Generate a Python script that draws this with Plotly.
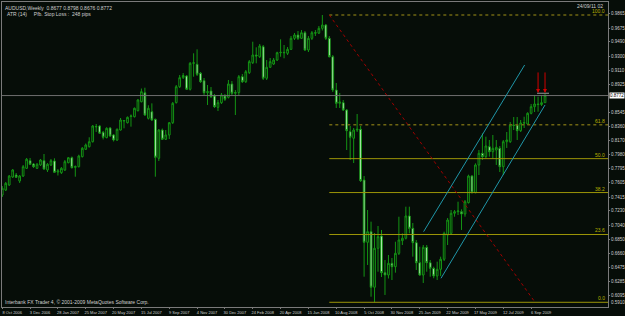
import pandas as pd
import plotly.graph_objects as go

# ---------------- data (AUDUSD weekly) ----------------
first_week = "2006-10-08"

opens = [0.7442,0.7509,0.7576,0.7683,0.7710,0.7630,0.7696,0.7799,0.7901,0.7857,
         0.7799,0.7844,0.7901,0.7777,0.7844,0.7897,0.7750,0.7741,0.7777,0.7874,
         0.7941,0.7811,0.7821,0.7955,0.8053,0.8088,0.8155,0.8352,0.8365,0.8281,
         0.8209,0.8338,0.8245,0.8178,0.8311,0.8431,0.8409,0.8492,0.8489,0.8570,
         0.8690,0.8810,0.8468,0.8556,0.8454,0.7933,0.8311,0.8187,0.8245,0.8409,
         0.8677,0.8890,0.9011,0.9033,0.8856,0.9203,0.9190,0.9070,0.8971,0.8810,
         0.8833,0.8766,0.8615,0.8677,0.8766,0.8749,0.8927,0.8802,0.8813,0.9024,
         0.8957,0.9078,0.9211,0.9314,0.9291,0.9425,0.9003,0.9150,0.9194,0.9247,
         0.9345,0.9350,0.9337,0.9390,0.9537,0.9582,0.9537,0.9612,0.9381,0.9537,
         0.9612,0.9607,0.9671,0.9715,0.9537,0.9291,0.8846,0.8668,0.8677,0.8579,
         0.8289,0.8201,0.8311,0.8321,0.7643,0.6810,0.6952,0.6209,0.6730,0.6894,
         0.6404,0.6373,0.6529,0.6484,0.6663,0.6832,0.6864,0.7162,0.6997,0.6805,
         0.6537,0.6373,0.6743,0.6537,0.6462,0.6360,0.6449,0.6583,0.6908,0.6930,
         0.7198,0.7219,0.7219,0.7189,0.7340,0.7696,0.7473,0.7844,0.8000,0.7955,
         0.8088,0.8021,0.8044,0.8067,0.7821,0.8155,0.8155,0.8378,0.8378,0.8302,
         0.8405,0.8392,0.8535,0.8623,0.8659,0.8652,0.8677]
highs = [0.7563,0.7616,0.7710,0.7790,0.7737,0.7710,0.7844,0.7937,0.7937,0.7870,
         0.7870,0.7924,0.7991,0.7870,0.7924,0.7933,0.7790,0.7817,0.7910,0.7950,
         0.7957,0.7837,0.7981,0.8084,0.8131,0.8214,0.8378,0.8392,0.8378,0.8298,
         0.8348,0.8352,0.8258,0.8332,0.8472,0.8445,0.8492,0.8519,0.8612,0.8726,
         0.8866,0.8877,0.8642,0.8668,0.8465,0.8324,0.8331,0.8311,0.8418,0.8686,
         0.8913,0.9047,0.9074,0.9047,0.9221,0.9337,0.9390,0.9087,0.9007,0.8913,
         0.8886,0.8793,0.8713,0.8806,0.8793,0.8980,0.8967,0.8846,0.9047,0.9060,
         0.9114,0.9247,0.9492,0.9417,0.9461,0.9448,0.9247,0.9274,0.9274,0.9358,
         0.9524,0.9448,0.9421,0.9568,0.9608,0.9635,0.9648,0.9635,0.9568,0.9635,
         0.9648,0.9702,0.9849,0.9729,0.9568,0.9314,0.8940,0.8806,0.8713,0.8592,
         0.8365,0.8338,0.8525,0.8365,0.7696,0.7242,0.7086,0.6934,0.7028,0.6975,
         0.6573,0.6640,0.6600,0.6818,0.7152,0.6930,0.7286,0.7286,0.7068,0.6841,
         0.6751,0.6774,0.6774,0.6573,0.6484,0.6551,0.6618,0.6952,0.7135,0.7242,
         0.7242,0.7353,0.7251,0.7376,0.7714,0.7710,0.7866,0.8044,0.8267,0.8222,
         0.8178,0.8245,0.8178,0.8098,0.8178,0.8285,0.8418,0.8485,0.8485,0.8445,
         0.8489,0.8548,0.8659,0.8780,0.8757,0.8766,0.8798]
lows = [0.7416,0.7496,0.7563,0.7670,0.7670,0.7603,0.7683,0.7790,0.7844,0.7804,
        0.7790,0.7830,0.7777,0.7750,0.7830,0.7737,0.7703,0.7723,0.7763,0.7866,
        0.7797,0.7687,0.7811,0.7944,0.8044,0.8078,0.8144,0.8285,0.8258,0.8185,
        0.8201,0.8218,0.8158,0.8164,0.8305,0.8334,0.8399,0.8356,0.8479,0.8559,
        0.8680,0.8499,0.8452,0.8431,0.7687,0.7897,0.8178,0.8178,0.8191,0.8392,
        0.8666,0.8873,0.8993,0.8846,0.8840,0.9024,0.9033,0.8940,0.8780,0.8646,
        0.8739,0.8606,0.8566,0.8659,0.8700,0.8733,0.8780,0.8512,0.8780,0.8940,
        0.8940,0.9060,0.9194,0.9203,0.9274,0.8980,0.8980,0.9140,0.9181,0.9234,
        0.9291,0.9270,0.9314,0.9381,0.9515,0.9515,0.9528,0.9368,0.9354,0.9515,
        0.9568,0.9595,0.9642,0.9515,0.9281,0.8819,0.8606,0.8606,0.8566,0.8044,
        0.7910,0.7870,0.8285,0.7616,0.6350,0.6507,0.6083,0.6008,0.6417,0.6346,
        0.6106,0.6326,0.6306,0.6404,0.6640,0.6774,0.6848,0.6930,0.6618,0.6440,
        0.6360,0.6266,0.6417,0.6350,0.6329,0.6306,0.6360,0.6560,0.6774,0.6908,
        0.7152,0.7175,0.6975,0.7152,0.7329,0.7463,0.7465,0.7710,0.7910,0.7937,
        0.7955,0.7933,0.7844,0.7750,0.7710,0.8071,0.8138,0.8311,0.8178,0.8285,
        0.8338,0.8378,0.8521,0.8552,0.8556,0.8632,0.8676]
closes = [0.7532,0.7599,0.7696,0.7777,0.7679,0.7696,0.7821,0.7920,0.7853,0.7821,
          0.7853,0.7910,0.7790,0.7853,0.7901,0.7746,0.7763,0.7799,0.7888,0.7941,
          0.7807,0.7824,0.7964,0.8067,0.8111,0.8155,0.8365,0.8358,0.8268,0.8214,
          0.8334,0.8231,0.8178,0.8321,0.8445,0.8438,0.8481,0.8499,0.8602,0.8713,
          0.8824,0.8512,0.8602,0.8445,0.7947,0.8311,0.8187,0.8245,0.8409,0.8668,
          0.8890,0.9011,0.9040,0.8856,0.9203,0.9210,0.9056,0.8957,0.8810,0.8824,
          0.8757,0.8623,0.8677,0.8780,0.8722,0.8927,0.8802,0.8813,0.9024,0.8957,
          0.9091,0.9225,0.9314,0.9301,0.9435,0.9003,0.9150,0.9225,0.9247,0.9345,
          0.9350,0.9345,0.9390,0.9537,0.9582,0.9537,0.9612,0.9381,0.9537,0.9612,
          0.9607,0.9671,0.9715,0.9537,0.9291,0.8846,0.8668,0.8686,0.8579,0.8302,
          0.8214,0.8311,0.8321,0.7634,0.6810,0.6952,0.6209,0.6730,0.6885,0.6404,
          0.6373,0.6529,0.6484,0.6663,0.6841,0.6864,0.7162,0.6997,0.6805,0.6537,
          0.6373,0.6743,0.6537,0.6462,0.6360,0.6449,0.6583,0.6930,0.7108,0.7198,
          0.7219,0.7229,0.7189,0.7353,0.7696,0.7473,0.7844,0.8000,0.7955,0.8098,
          0.8021,0.8067,0.8080,0.7821,0.8155,0.8178,0.8378,0.8372,0.8302,0.8405,
          0.8409,0.8535,0.8623,0.8659,0.8652,0.8677,0.8772]

x_tick_dates = ["2006-10-08","2006-12-03","2007-01-28","2007-03-25","2007-05-20",
                "2007-07-15","2007-09-09","2007-11-04","2007-12-30","2008-02-24",
                "2008-04-20","2008-06-15","2008-08-10","2008-10-05","2008-11-30",
                "2009-01-25","2009-03-22","2009-05-17","2009-07-12","2009-09-06"]
x_tick_text = ["8 Oct 2006","3 Dec 2006","28 Jan 2007","25 Mar 2007","20 May 2007",
               "15 Jul 2007","9 Sep 2007","4 Nov 2007","30 Dec 2007","24 Feb 2008",
               "20 Apr 2008","15 Jun 2008","10 Aug 2008","5 Oct 2008","30 Nov 2008",
               "25 Jan 2009","22 Mar 2009","17 May 2009","12 Jul 2009","6 Sep 2009"]
y_tick_vals = [0.9865,0.9675,0.9490,0.9300,0.9110,0.8925,0.8545,0.8360,0.8170,
               0.7980,0.7795,0.7605,0.7415,0.7230,0.7040,0.6850,0.6660,0.6475,0.6285,
               0.6095]

# Fibonacci retracement (drawn object)
fib_high, fib_low = 0.9849, 0.6008
fib_anchor_dates = ["2008-07-27", "2009-09-14"]
fib_levels = [0.0, 23.6, 38.2, 50.0, 61.8, 100.0]
fib_labels = ["0.0", "23.6", "38.2", "50.0", "61.8", "100.0"]

# regression channel lines (drawn objects)
chan_upper_dates = ["2009-02-01 17:00", "2009-08-24"]
chan_upper_prices = [0.6952, 0.9181]
chan_lower_dates = ["2009-03-08 17:00", "2009-10-04"]
chan_lower_prices = [0.6329, 0.8646]

# down arrows
arrow_dates = ["2009-09-20", "2009-10-04"]
arrow_tip, arrow_tail = 0.8807, 0.9101
mark_dates = ["2009-09-18", "2009-10-12"]
mark_price = 0.8803

last_price = closes[-1]

# ---------------- figure ----------------
dates = pd.date_range(first_week, periods=len(opens), freq="7D")
BG = "#060d08"
GRID = "#7a7a7a"
LINE = "#149414"
TXT = "#cfcfcf"
FONT = "Liberation Sans, Arial"

fig = go.Figure()
fig.add_trace(go.Candlestick(
    x=dates, open=opens, high=highs, low=lows, close=closes,
    increasing=dict(line=dict(color=LINE, width=1), fillcolor=BG),
    decreasing=dict(line=dict(color=LINE, width=1), fillcolor="#d8ffd8"),
    whiskerwidth=0, showlegend=False, hoverinfo="skip",
))

t0 = pd.Timestamp(first_week)
x_range = [t0 - pd.Timedelta(days=0.5), t0 + pd.Timedelta(days=174.1 * 7)]

shapes = []
shapes.append(dict(type="line", xref="paper", x0=0, x1=1, yref="y",
                   y0=last_price, y1=last_price, line=dict(color="#6f6f6f", width=1)))
for lv in fib_levels:
    price = fib_low + (fib_high - fib_low) * lv / 100.0
    if lv in (100.0, 61.8):
        ln = dict(color="#6e6612", width=1.5, dash="dot")
    else:
        ln = dict(color="#9c9608", width=1)
    shapes.append(dict(type="line", xref="x", x0=fib_anchor_dates[0], x1=x_range[1],
                       yref="y", y0=price, y1=price, line=ln))
shapes.append(dict(type="line", xref="x", yref="y",
                   x0=fib_anchor_dates[0], y0=fib_high, x1=fib_anchor_dates[1], y1=fib_low,
                   line=dict(color="#a00000", width=1, dash="dot")))
for ds, ps in ((chan_upper_dates, chan_upper_prices), (chan_lower_dates, chan_lower_prices)):
    shapes.append(dict(type="line", xref="x", yref="y", x0=ds[0], y0=ps[0], x1=ds[1], y1=ps[1],
                       line=dict(color="#2096a8", width=1)))
shapes.append(dict(type="line", xref="x", yref="y", x0=mark_dates[0], x1=mark_dates[1],
                   y0=mark_price, y1=mark_price, line=dict(color="#9a9a9a", width=1)))

ann = []
small = dict(family=FONT, size=5, color=TXT)
tiny = dict(family=FONT, size=4.5, color=TXT)
o, h, l, c = opens[-1], highs[-1], lows[-1], closes[-1]
ann.append(dict(xref="paper", yref="paper", x=0.002, y=1.0, xanchor="left", yanchor="top", yshift=-1,
                text=f"AUDUSD,Weekly  {o:.4f} {h:.4f} {l:.4f} {c:.4f}", showarrow=False, font=small))
ann.append(dict(xref="paper", yref="paper", x=0.005, y=0.961, xanchor="left", yanchor="middle",
                text="ATR (14)     Pfb. Stop Loss :  248 pips", showarrow=False, font=small))
ann.append(dict(xref="paper", yref="paper", x=0.995, y=1.0, xanchor="right", yanchor="top", yshift=1,
                text="24/09/11 02", showarrow=False, font=small))
ann.append(dict(xref="paper", yref="paper", x=0.002, y=0.016, xanchor="left", yanchor="middle",
                text="Interbank FX Trader 4, © 2001-2009 MetaQuotes Software Corp.",
                showarrow=False, font=small))
for lv, lab in zip(fib_levels, fib_labels):
    price = fib_low + (fib_high - fib_low) * lv / 100.0
    ann.append(dict(xref="paper", yref="y", x=0.998, y=price, xanchor="right", yanchor="bottom",
                    yshift=-1, text=lab, showarrow=False,
                    font=dict(family=FONT, size=5, color="#b8b000")))
for d in arrow_dates:
    ann.append(dict(xref="x", yref="y", x=d, y=arrow_tip, axref="x", ayref="y", ax=d, ay=arrow_tail,
                    showarrow=True, arrowhead=2, arrowsize=0.8, arrowwidth=1, arrowcolor="#d00000",
                    text=""))
ann.append(dict(xref="paper", yref="y", x=1, y=last_price, xanchor="left", yanchor="middle", xshift=1,
                text=f"{last_price:.4f}", showarrow=False, bgcolor="#ffffff", borderpad=0,
                font=dict(family=FONT, size=4.5, color="#000000")))
ann.append(dict(xref="paper", yref="paper", x=1, y=0.0, xanchor="left", yanchor="bottom", xshift=1,
                text="0.5910", showarrow=False, font=tiny))

fig.update_layout(
    width=625, height=316,
    margin=dict(l=2, r=17, t=2, b=9, autoexpand=False),
    paper_bgcolor=BG, plot_bgcolor=BG,
    shapes=shapes, annotations=ann,
    xaxis=dict(type="date", range=x_range, rangeslider=dict(visible=False), automargin=False,
               showgrid=False, zeroline=False, showline=True, mirror=True,
               linecolor=GRID, linewidth=1,
               tickmode="array", tickvals=x_tick_dates, ticktext=x_tick_text, tickangle=0,
               ticks="outside", ticklen=1, tickcolor=GRID, ticklabelshift=10,
               ticklabelstandoff=0,
               tickfont=dict(family=FONT, size=4, color=TXT)),
    yaxis=dict(side="right", range=[0.5945, 1.00229], showgrid=False, zeroline=False,
               automargin=False,
               showline=True, mirror=True, linecolor=GRID, linewidth=1,
               tickmode="array", tickvals=y_tick_vals, ticktext=[f"{v:.4f}" for v in y_tick_vals],
               ticks="outside", ticklen=1, tickcolor=GRID, ticklabelstandoff=0,
               tickfont=tiny),
)

fig.write_html("out.html")
